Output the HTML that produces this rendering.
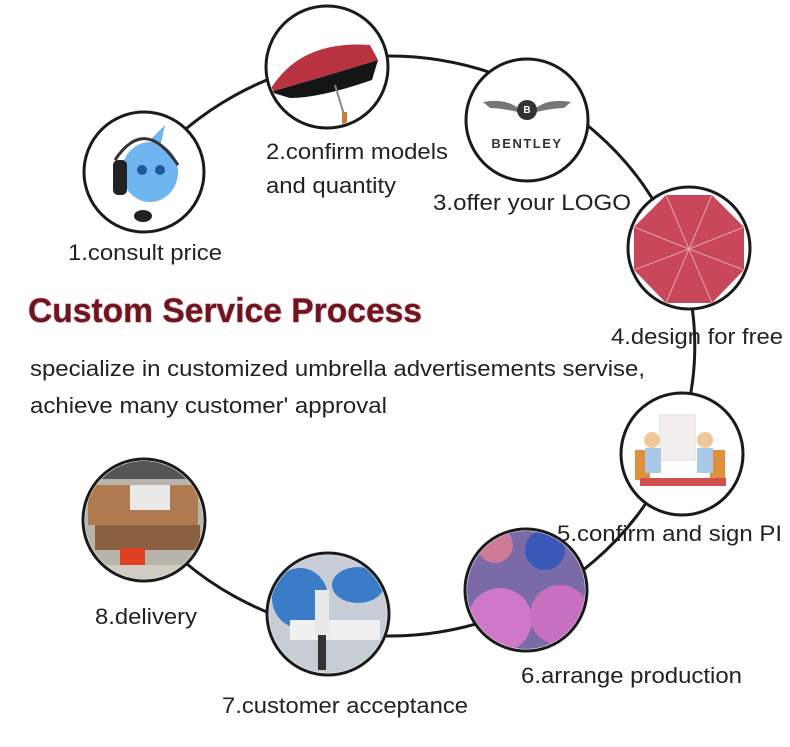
<!DOCTYPE html>
<html><head><meta charset="utf-8"><style>
html,body{margin:0;padding:0;background:#fff;}
svg{display:block;}
text{font-family:"Liberation Sans",Arial,sans-serif;fill:#222;}
</style></head><body>
<svg width="790" height="747" viewBox="0 0 790 747" xmlns="http://www.w3.org/2000/svg">
<defs>
<clipPath id="c1"><circle cx="144" cy="172" r="58"/></clipPath>
<clipPath id="c2"><circle cx="327" cy="67" r="59"/></clipPath>
<clipPath id="c3"><circle cx="527" cy="120" r="59"/></clipPath>
<clipPath id="c4"><circle cx="689" cy="248" r="59"/></clipPath>
<clipPath id="c5"><circle cx="682" cy="454" r="59"/></clipPath>
<clipPath id="c6"><circle cx="526" cy="590" r="59"/></clipPath>
<clipPath id="c7"><circle cx="328" cy="614" r="59"/></clipPath>
<clipPath id="c8"><circle cx="144" cy="520" r="59"/></clipPath>
</defs>
<path d="M144,172 A306,290 0 1 1 144,520" fill="none" stroke="#1a1a1a" stroke-width="3"/>

<circle cx="144" cy="172" r="60" fill="#fff" stroke="#1a1a1a" stroke-width="3"/>
<g clip-path="url(#c1)">
<ellipse cx="150" cy="172" rx="28" ry="30" fill="#6fb6f0"/>
<path d="M150,140 L165,125 L160,148 Z" fill="#6fb6f0"/>
<circle cx="142" cy="170" r="5" fill="#1d5a9a"/><circle cx="160" cy="170" r="5" fill="#1d5a9a"/>
<rect x="113" y="160" width="14" height="35" rx="5" fill="#222"/>
<path d="M115,160 Q145,115 178,165" fill="none" stroke="#333" stroke-width="3"/>
<ellipse cx="143" cy="216" rx="9" ry="6" fill="#222"/>
</g>
<circle cx="327" cy="67" r="61" fill="#fff" stroke="#1a1a1a" stroke-width="3"/>
<g clip-path="url(#c2)">
<path d="M270,90 Q300,40 370,45 L378,60 Q330,75 270,92 Z" fill="#b8323f"/>
<path d="M270,92 Q330,75 378,60 L372,80 Q320,98 290,98 Z" fill="#151515"/>
<line x1="335" y1="85" x2="345" y2="118" stroke="#888" stroke-width="2"/>
<rect x="342" y="112" width="5" height="12" fill="#c87d3a"/>
</g>
<circle cx="527" cy="120" r="61" fill="#fff" stroke="#1a1a1a" stroke-width="3"/>
<g clip-path="url(#c3)">
<path d="M483,102 Q505,98 518,108 L518,112 Q500,108 490,108 Z" fill="#777"/>
<path d="M571,102 Q549,98 536,108 L536,112 Q554,108 564,108 Z" fill="#777"/>
<circle cx="527" cy="110" r="10" fill="#333"/>
<text x="527" y="113" font-size="10" text-anchor="middle" style="fill:#fff;font-weight:bold">B</text>
<text x="527" y="148" font-size="13" text-anchor="middle" style="font-weight:bold;letter-spacing:1.5px;fill:#333">BENTLEY</text>
</g>
<circle cx="689" cy="248" r="61" fill="#fff" stroke="#1a1a1a" stroke-width="3"/>
<g clip-path="url(#c4)">
<polygon points="666,195 712,195 744,227 744,270 712,303 666,303 634,270 634,227" fill="#c8485a"/>
<g stroke="#e8a0a8" stroke-width="1">
<line x1="689" y1="249" x2="666" y2="195"/><line x1="689" y1="249" x2="712" y2="195"/>
<line x1="689" y1="249" x2="744" y2="227"/><line x1="689" y1="249" x2="744" y2="270"/>
<line x1="689" y1="249" x2="712" y2="303"/><line x1="689" y1="249" x2="666" y2="303"/>
<line x1="689" y1="249" x2="634" y2="270"/><line x1="689" y1="249" x2="634" y2="227"/>
</g>
</g>
<circle cx="682" cy="454" r="61" fill="#fff" stroke="#1a1a1a" stroke-width="3"/>
<g clip-path="url(#c5)">
<rect x="660" y="415" width="35" height="45" fill="#f3eeee" stroke="#ddd"/>
<rect x="635" y="450" width="15" height="30" fill="#e0903a"/>
<rect x="710" y="450" width="15" height="30" fill="#e0903a"/>
<circle cx="652" cy="440" r="8" fill="#f2c89a"/><rect x="645" y="448" width="16" height="25" fill="#a8c8e8"/>
<circle cx="705" cy="440" r="8" fill="#f2c89a"/><rect x="697" y="448" width="16" height="25" fill="#a8c8e8"/>
<rect x="640" y="478" width="86" height="8" fill="#d05050"/>
</g>
<circle cx="526" cy="590" r="61" fill="#fff" stroke="#1a1a1a" stroke-width="3"/>
<g clip-path="url(#c6)">
<rect x="460" y="525" width="132" height="132" fill="#7a6aa8"/>
<circle cx="495" cy="545" r="18" fill="#d07a9a"/><circle cx="545" cy="550" r="20" fill="#3a58b8"/>
<circle cx="500" cy="620" r="32" fill="#d078c8"/><circle cx="560" cy="615" r="30" fill="#c870c0"/>
</g>
<circle cx="328" cy="614" r="61" fill="#fff" stroke="#1a1a1a" stroke-width="3"/>
<g clip-path="url(#c7)">
<rect x="265" y="550" width="130" height="130" fill="#c8ccd4"/>
<ellipse cx="300" cy="598" rx="28" ry="30" fill="#3a7cc8"/>
<ellipse cx="358" cy="585" rx="26" ry="18" fill="#3a7cc8"/>
<rect x="290" y="620" width="90" height="20" fill="#f0f0f0"/>
<rect x="315" y="590" width="14" height="45" fill="#e8e8e8"/>
<rect x="318" y="635" width="8" height="35" fill="#333"/>
</g>
<circle cx="144" cy="520" r="61" fill="#fff" stroke="#1a1a1a" stroke-width="3"/>
<g clip-path="url(#c8)">
<rect x="83" y="459" width="124" height="124" fill="#b8b4ac"/>
<rect x="83" y="459" width="124" height="20" fill="#555"/>
<rect x="88" y="485" width="110" height="40" fill="#b07a50"/>
<rect x="130" y="485" width="40" height="25" fill="#e8e8e8"/>
<rect x="95" y="525" width="105" height="25" fill="#8a6040"/>
<rect x="120" y="548" width="25" height="18" fill="#e04020"/>
<rect x="83" y="565" width="124" height="20" fill="#d0ccc4"/>
</g>

<g font-size="22">
<text x="68" y="260" textLength="154" lengthAdjust="spacingAndGlyphs">1.consult price</text>
<text x="266" y="159" textLength="182" lengthAdjust="spacingAndGlyphs">2.confirm models</text>
<text x="266" y="193" textLength="130" lengthAdjust="spacingAndGlyphs">and quantity</text>
<text x="433" y="210" textLength="198" lengthAdjust="spacingAndGlyphs">3.offer your LOGO</text>
<text x="611" y="344" textLength="172" lengthAdjust="spacingAndGlyphs">4.design for free</text>
<text x="557" y="541" textLength="225" lengthAdjust="spacingAndGlyphs">5.confirm and sign PI</text>
<text x="521" y="683" textLength="221" lengthAdjust="spacingAndGlyphs">6.arrange production</text>
<text x="222" y="713" textLength="246" lengthAdjust="spacingAndGlyphs">7.customer acceptance</text>
<text x="95" y="624" textLength="102" lengthAdjust="spacingAndGlyphs">8.delivery</text>
<text x="30" y="376" textLength="615" lengthAdjust="spacingAndGlyphs">specialize in customized umbrella advertisements servise,</text>
<text x="30" y="413" textLength="357" lengthAdjust="spacingAndGlyphs">achieve many customer' approval</text>
</g>

<text x="28" y="322" font-size="34" textLength="394" lengthAdjust="spacingAndGlyphs" style="font-weight:bold;fill:#6e1522;stroke:#e8a0a8;stroke-width:1.2;paint-order:stroke">Custom Service Process</text>
</svg>
</body></html>
